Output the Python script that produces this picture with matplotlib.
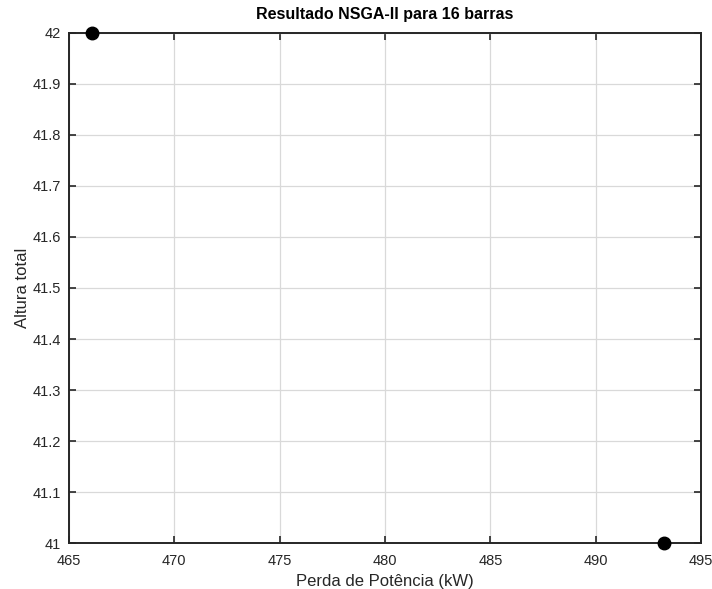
import matplotlib
matplotlib.use("Agg")
from matplotlib import pyplot as plt

############## Data ##############
perda_kw = [466.11, 493.22]
altura_total = [42.0, 41.0]
x_ticks = [465, 470, 475, 480, 485, 490, 495]
y_ticks = [41, 41.1, 41.2, 41.3, 41.4, 41.5, 41.6, 41.7, 41.8, 41.9, 42]
y_labels = ["41", "41.1", "41.2", "41.3", "41.4", "41.5", "41.6", "41.7", "41.8", "41.9", "42"]

plt.rcParams["font.family"] = ["Liberation Sans", "DejaVu Sans"]

fig = plt.figure(figsize=(7.12, 5.89), dpi=100)
ax = fig.add_axes([0.0969, 0.0776, 0.8877, 0.8669])

ax.plot(perda_kw, altura_total, "o", color="black", markersize=9, clip_on=False, zorder=5)

ax.set_xlim(465, 495)
ax.set_ylim(41, 42)
ax.set_xticks(x_ticks)
ax.set_yticks(y_ticks)
ax.set_yticklabels(y_labels)
ax.grid(True, color="#d9d9d9", linewidth=0.9)
ax.set_axisbelow(True)

ax.tick_params(direction="in", length=5, width=1.2, top=True, right=True,
               labelsize=10.5, colors="#262626", labelcolor="#262626")
ax.tick_params(axis="x", pad=8)
ax.tick_params(axis="y", pad=6)
for s in ax.spines.values():
    s.set_linewidth(1.4)
    s.set_color("#262626")

ax.set_title("Resultado NSGA-II para 16 barras", fontsize=11.5, fontweight="bold", pad=10)
ax.set_xlabel("Perda de Potência (kW)", fontsize=12, color="#262626", labelpad=4)
ax.set_ylabel("Altura total", fontsize=12, color="#262626", labelpad=2)

fig.savefig("out.png", dpi=100)
